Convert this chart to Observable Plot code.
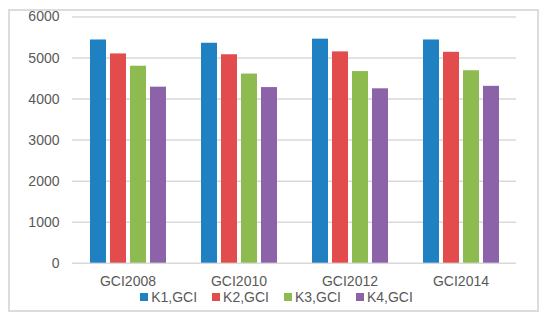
<!DOCTYPE html>
<html><head><meta charset="utf-8">
<script src="https://cdn.jsdelivr.net/npm/d3@7"></script>
<script src="https://cdn.jsdelivr.net/npm/@observablehq/plot@0.6"></script>
<style>
body{margin:0;background:#fff;}
#wrap{position:relative;width:550px;height:320px;font-family:"Liberation Sans",Arial,sans-serif;overflow:hidden;}
#frame{position:absolute;left:8px;top:9px;width:531px;height:303px;box-sizing:border-box;border:2px solid #dcdcdc;pointer-events:none;}
#chart{position:absolute;left:0;top:0;}
#legend{position:absolute;left:9px;top:288px;width:550px;}
.lg-swatches{font-family:"Liberation Sans",Arial,sans-serif !important;font-size:14px !important;color:#595959 !important;margin:0 !important;}
.lg-swatches-wrap{min-height:18px !important;justify-content:center;}
.lg-swatch{margin-right:15px !important;}
.lg-swatch > svg{margin-right:3px !important;}
</style>
</head><body>
<div id="wrap"><div id="chart"></div><div id="legend"></div><div id="frame"></div></div>
<script>
const categories = ["GCI2008", "GCI2010", "GCI2012", "GCI2014"];
const series = ["K1,GCI", "K2,GCI", "K3,GCI", "K4,GCI"];
const k1 = [5440, 5360, 5460, 5440];
const k2 = [5100, 5080, 5150, 5140];
const k3 = [4800, 4610, 4670, 4690];
const k4 = [4290, 4280, 4250, 4310];
const yTicks = [0, 1000, 2000, 3000, 4000, 5000, 6000];
const colors = ["#1f80c2", "#e24c4c", "#8dbb4f", "#8c62a8"];

const valuesBySeries = [k1, k2, k3, k4];
const data = [];
categories.forEach((c, i) => {
  series.forEach((s, j) => data.push({category: c, series: s, value: valuesBySeries[j][i]}));
});

const font = '"Liberation Sans", Arial, sans-serif';
const plot = Plot.plot({
  width: 550, height: 288,
  marginLeft: 70, marginRight: 33, marginTop: 16.5, marginBottom: 25.3,
  style: {fontFamily: font, fontSize: "14px", color: "#595959", background: "transparent"},
  fx: {domain: categories, padding: 0, label: null, tickSize: 0, tickPadding: 13, axis: "bottom"},
  x: {domain: series, axis: null, paddingInner: 0.212, paddingOuter: 0.86},
  y: {domain: [0, 6000], ticks: yTicks, tickFormat: d => String(d), tickSize: 0, tickPadding: 13, label: null},
  color: {domain: series, range: colors},
  marks: [
    Plot.gridY(yTicks, {stroke: "#d9d9d9", strokeWidth: 1.5, strokeOpacity: 1}),
    Plot.barY(data, {fx: "category", x: "series", y: "value", fill: "series"})
  ]
});
document.getElementById("chart").appendChild(plot);
const leg = plot.legend("color", {swatchSize: 8, className: "lg"});
document.getElementById("legend").appendChild(leg);
</script>
</body></html>
